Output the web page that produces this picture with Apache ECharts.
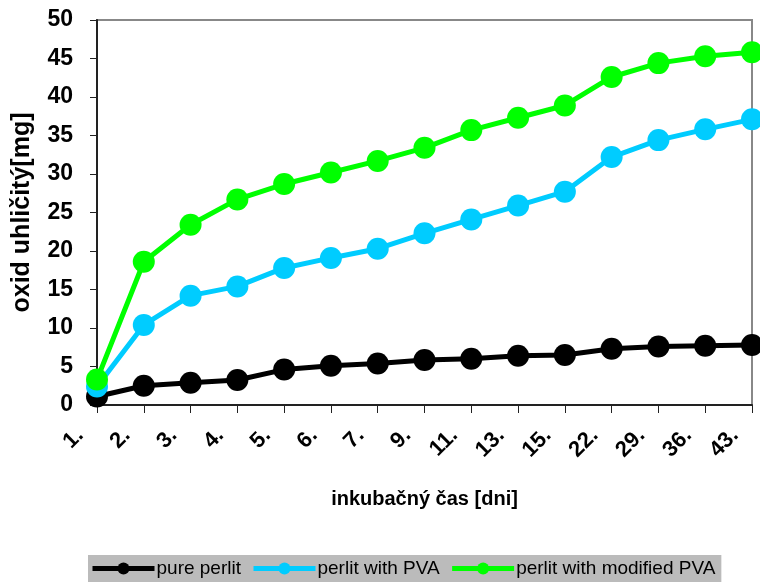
<!DOCTYPE html>
<html>
<head>
<meta charset="utf-8">
<script src="https://cdn.jsdelivr.net/npm/echarts@6/dist/echarts.min.js"></script>
<style>html,body{margin:0;padding:0;background:#fff;}#c{width:760px;height:583px;}</style>
</head>
<body>
<div id="c"></div>
<script>
const categories = ['1.', '2.', '3.', '4.', '5.', '6.', '7.', '9.', '11.', '13.', '15.', '22.', '29.', '36.', '43.'];
const purePerlit = [1.1, 2.5, 2.9, 3.25, 4.6, 5.1, 5.4, 5.85, 6.0, 6.4, 6.5, 7.3, 7.6, 7.7, 7.8];
const perlitPVA = [2.4, 10.4, 14.2, 15.4, 17.8, 19.1, 20.3, 22.3, 24.1, 25.9, 27.7, 32.2, 34.4, 35.8, 37.1];
const perlitModPVA = [3.3, 18.6, 23.4, 26.7, 28.7, 30.2, 31.7, 33.4, 35.7, 37.3, 38.9, 42.6, 44.4, 45.3, 45.8];
const yTicks = [0, 5, 10, 15, 20, 25, 30, 35, 40, 45, 50];

const chart = echarts.init(document.getElementById('c'), null, {renderer: 'canvas'});
const FONT = 'Liberation Sans';
function mk(name, data, color) {
  return {
    name: name, type: 'line', data: data,
    symbol: 'circle', symbolSize: 22,
    lineStyle: {color: color, width: 5},
    itemStyle: {color: color},
    emphasis: {disabled: true},
    animation: false
  };
}
chart.setOption({
  animation: false,
  textStyle: {fontFamily: FONT},
  grid: {left: 97, right: 8, top: 20, bottom: 178, outerBoundsMode: 'none', containLabel: false,
    show: true, borderColor: '#888888', borderWidth: 2, backgroundColor: 'transparent'},
  xAxis: {
    type: 'category', data: categories, boundaryGap: false,
    axisLine: {lineStyle: {color: '#222', width: 2}},
    axisTick: {show: true, inside: false, length: 8, lineStyle: {color: '#222', width: 1}, alignWithLabel: true},
    axisLabel: {rotate: 45, margin: 10, interval: 0, fontSize: 22, fontWeight: 'bold', color: '#000', fontFamily: FONT, padding: [0, 24, 0, 0]},
    splitLine: {show: false},
    name: 'inkubačný čas [dni]', nameLocation: 'middle', nameGap: 84,
    nameTextStyle: {fontSize: 20, fontWeight: 'bold', color: '#000', fontFamily: FONT}
  },
  yAxis: {
    type: 'value', min: 0, max: 50, interval: 5,
    axisLine: {show: true, lineStyle: {color: '#222', width: 2}},
    axisTick: {show: true, length: 7, lineStyle: {color: '#222', width: 1}},
    axisLabel: {margin: 24, fontSize: 23, fontWeight: 'bold', color: '#000', fontFamily: FONT,
      formatter: function (v) { return yTicks.indexOf(v) >= 0 ? String(v) : ''; }},
    splitLine: {show: false},
    name: 'oxid uhličitý[mg]', nameLocation: 'middle', nameGap: 62, nameRotate: 90,
    nameTextStyle: {fontSize: 25, fontWeight: 'bold', color: '#000', fontFamily: FONT}
  },
  legend: {
    bottom: 1, left: 88,
    backgroundColor: '#bbbbbb', borderWidth: 0,
    padding: [4, 6, 4, 2],
    itemWidth: 62, itemHeight: 15, itemGap: 10,
    lineStyle: {width: 5},
    textStyle: {fontSize: 19, color: '#000', fontFamily: FONT, padding: [0, 0, 0, -3]},
    data: ['pure perlit', 'perlit with PVA', 'perlit with modified PVA']
  },
  series: [
    mk('pure perlit', purePerlit, '#000000'),
    mk('perlit with PVA', perlitPVA, '#00ccff'),
    mk('perlit with modified PVA', perlitModPVA, '#00ff00')
  ]
});
</script>
</body>
</html>
